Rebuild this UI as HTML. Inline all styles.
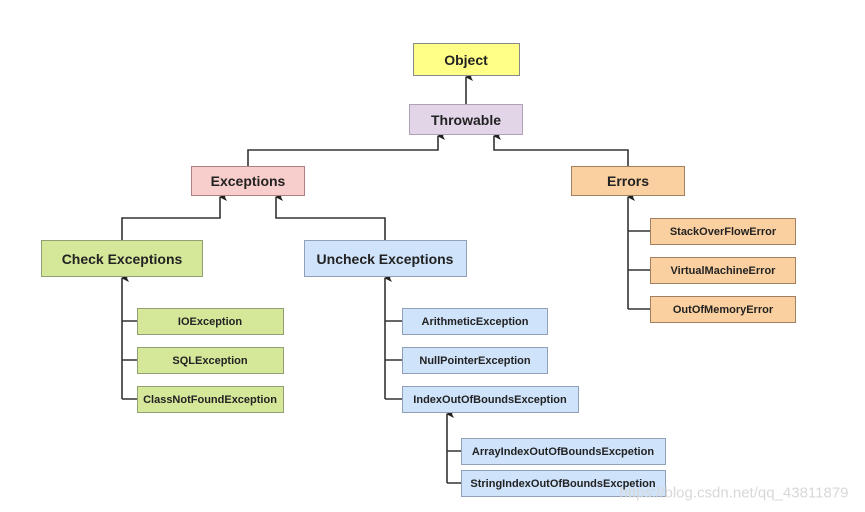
<!DOCTYPE html>
<html><head><meta charset="utf-8"><style>
html,body{margin:0;padding:0;background:#fff;}
svg{display:block;}
text{font-family:"Liberation Sans",Arial,sans-serif;font-weight:bold;fill:#222;text-anchor:middle;dominant-baseline:central;}
</style></head><body>
<svg width="865" height="512" viewBox="0 0 865 512" xmlns="http://www.w3.org/2000/svg">
<defs><marker id="a" markerWidth="8" markerHeight="8" refX="4" refY="1" orient="auto" markerUnits="userSpaceOnUse"><path d="M0,8 L4,0 L8,8 L4,6 Z" fill="#222"/></marker></defs>
<g fill="none" stroke="#333" stroke-width="1.6">
<path d="M466,104 V77" marker-end="url(#a)"/>
<path d="M248,166 V150 H438 V136" marker-end="url(#a)"/>
<path d="M628,166 V150 H494 V136" marker-end="url(#a)"/>
<path d="M122,240 V218 H220 V197" marker-end="url(#a)"/>
<path d="M385,240 V218 H276 V197" marker-end="url(#a)"/>
<path d="M122,399 V278" marker-end="url(#a)"/>
<path d="M122,321 H137 M122,360 H137 M122,399 H137"/>
<path d="M385,399 V278" marker-end="url(#a)"/>
<path d="M385,321 H402 M385,360 H402 M385,399 H402"/>
<path d="M447,483 V414" marker-end="url(#a)"/>
<path d="M447,451 H461 M447,483 H461"/>
<path d="M628,309 V197" marker-end="url(#a)"/>
<path d="M628,231 H650 M628,270 H650 M628,309 H650"/>
</g>
<g stroke-width="1">
<rect x="413.5" y="43.5" width="106" height="32" fill="#ffff88" stroke="#888"/>
<rect x="409.5" y="104.5" width="113" height="30" fill="#e1d5e7" stroke="#b0a0b8"/>
<rect x="191.5" y="166.5" width="113" height="29" fill="#f8cecc" stroke="#b08080"/>
<rect x="571.5" y="166.5" width="113" height="29" fill="#fad0a0" stroke="#a08060"/>
<rect x="41.5" y="240.5" width="161" height="36" fill="#d5e89a" stroke="#90a070"/>
<rect x="304.5" y="240.5" width="162" height="36" fill="#cfe3fb" stroke="#8fa0b8"/>
<g fill="#d5e89a" stroke="#90a070">
<rect x="137.5" y="308.5" width="146" height="26"/>
<rect x="137.5" y="347.5" width="146" height="26"/>
<rect x="137.5" y="386.5" width="146" height="26"/>
</g>
<g fill="#cfe3fb" stroke="#8fa0b8">
<rect x="402.5" y="308.5" width="145" height="26"/>
<rect x="402.5" y="347.5" width="145" height="26"/>
<rect x="402.5" y="386.5" width="176" height="26"/>
<rect x="461.5" y="438.5" width="204" height="26"/>
<rect x="461.5" y="470.5" width="204" height="26"/>
</g>
<g fill="#fad0a0" stroke="#a08060">
<rect x="650.5" y="218.5" width="145" height="26"/>
<rect x="650.5" y="257.5" width="145" height="26"/>
<rect x="650.5" y="296.5" width="145" height="26"/>
</g>
</g>
<g font-size="14">
<text x="466" y="60">Object</text>
<text x="466" y="120">Throwable</text>
<text x="248" y="181">Exceptions</text>
<text x="628" y="181">Errors</text>
<text x="122" y="259">Check Exceptions</text>
<text x="385" y="259">Uncheck Exceptions</text>
</g>
<g font-size="11">
<text x="210" y="322">IOException</text>
<text x="210" y="361">SQLException</text>
<text x="210" y="400">ClassNotFoundException</text>
<text x="475" y="322">ArithmeticException</text>
<text x="475" y="361">NullPointerException</text>
<text x="490" y="400">IndexOutOfBoundsException</text>
<text x="563" y="452">ArrayIndexOutOfBoundsExcpetion</text>
<text x="563" y="484">StringIndexOutOfBoundsExcpetion</text>
<text x="723" y="232">StackOverFlowError</text>
<text x="723" y="271">VirtualMachineError</text>
<text x="723" y="310">OutOfMemoryError</text>
</g>
<text x="734" y="493" font-size="15" style="font-weight:normal;fill:#d8d8d8">https://blog.csdn.net/qq_43811879</text>
</svg>
</body></html>
